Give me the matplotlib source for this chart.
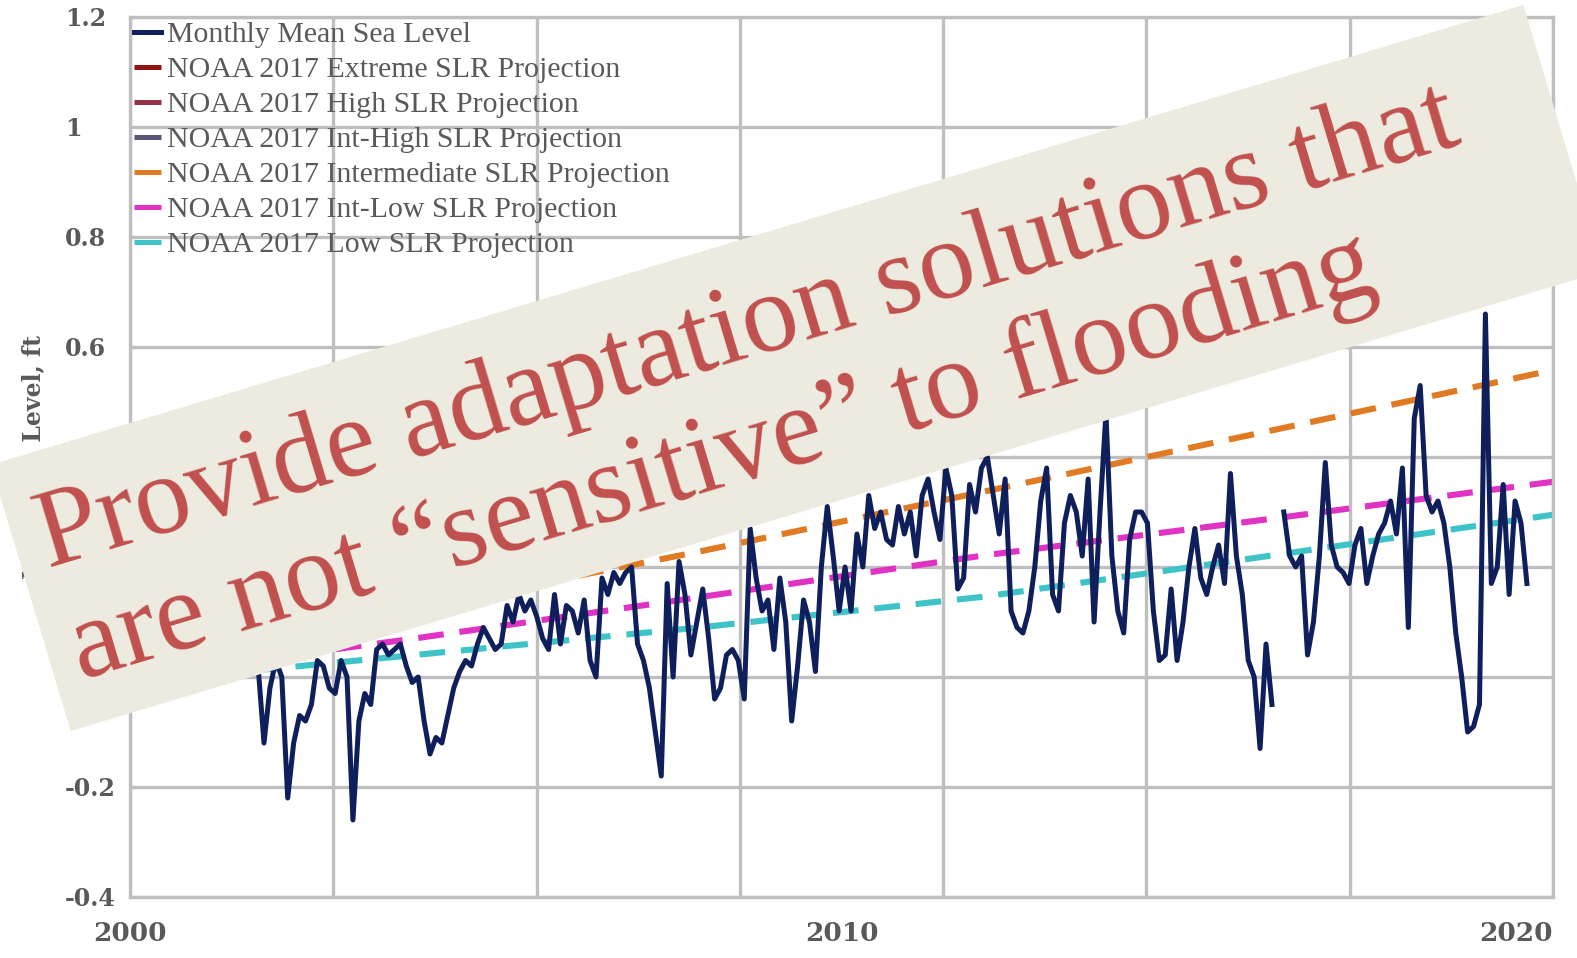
import numpy as np
import matplotlib

matplotlib.use("Agg")
import matplotlib.pyplot as plt
from matplotlib.patches import Rectangle

# monthly mean sea level (ft), one value per month from late 2001; nan = missing month
msl_start = 2001.8
msl = [
    0.02, -0.12, -0.02, 0.03, 0.0, -0.22, -0.12, -0.07, -0.08, -0.05, 0.03, 0.02,
    -0.02, -0.03, 0.03, 0.0, -0.26, -0.08, -0.03, -0.05, 0.05, 0.06, 0.04, 0.05,
    0.06, 0.02, -0.01, 0.0, -0.08, -0.14, -0.11, -0.12, -0.07, -0.02, 0.01, 0.03,
    0.02, 0.06, 0.09, 0.07, 0.05, 0.06, 0.13, 0.10, 0.15, 0.12, 0.14, 0.11,
    0.07, 0.05, 0.15, 0.06, 0.13, 0.12, 0.08, 0.14, 0.03, 0.0, 0.18, 0.15,
    0.19, 0.17, 0.19, 0.20, 0.06, 0.03, -0.02, -0.10, -0.18, 0.17, 0.0, 0.21,
    0.15, 0.04, 0.10, 0.16, 0.07, -0.04, -0.02, 0.04, 0.05, 0.03, -0.04, 0.27,
    0.18, 0.12, 0.14, 0.05, 0.18, 0.10, -0.08, 0.02, 0.14, 0.10, 0.01, 0.20,
    0.31, 0.22, 0.12, 0.20, 0.12, 0.26, 0.20, 0.33, 0.27, 0.30, 0.25, 0.24,
    0.31, 0.26, 0.30, 0.22, 0.33, 0.36, 0.30, 0.25, 0.38, 0.33, 0.16, 0.18,
    0.35, 0.30, 0.38, 0.40, 0.33, 0.26, 0.36, 0.12, 0.09, 0.08, 0.12, 0.20,
    0.32, 0.38, 0.15, 0.12, 0.28, 0.33, 0.30, 0.22, 0.36, 0.10, 0.30, 0.48,
    0.22, 0.12, 0.08, 0.25, 0.30, 0.30, 0.28, 0.12, 0.03, 0.04, 0.16, 0.03,
    0.10, 0.20, 0.27, 0.18, 0.15, 0.20, 0.24, 0.17, 0.37, 0.22, 0.15, 0.03,
    0.0, -0.13, 0.06, -0.05, np.nan, 0.30, 0.22, 0.20, 0.22, 0.04, 0.10, 0.22,
    0.39, 0.24, 0.20, 0.19, 0.17, 0.24, 0.27, 0.17, 0.22, 0.26, 0.28, 0.32,
    0.26, 0.38, 0.09, 0.47, 0.53, 0.33, 0.30, 0.32, 0.28, 0.20, 0.08, 0.0,
    -0.10, -0.09, -0.05, 0.66, 0.17, 0.20, 0.35, 0.15, 0.32, 0.28, 0.17,
]

# NOAA 2017 scenario curves (ft)
proj_years = [2000, 2004, 2008, 2012, 2016, 2020]
low = [-0.01, 0.04, 0.09, 0.146, 0.22, 0.295]
int_low = [0.0, 0.07, 0.145, 0.221, 0.287, 0.355]
intermediate = [0.02, 0.125, 0.228, 0.337, 0.447, 0.558]
upper_years = [2000, 2005, 2010, 2015, 2020]
int_high = [0.0, 0.17, 0.38, 0.62, 0.90]
high = [0.0, 0.20, 0.45, 0.72, 0.98]
extreme = [0.0, 0.22, 0.49, 0.77, 1.02]

y_ticks = [-0.4, -0.2, 0.0, 0.2, 0.4, 0.6, 0.8, 1.0, 1.2]
y_labels = ["-0.4", "-0.2", "0", "0.2", "0.4", "0.6", "0.8", "1", "1.2"]
x_labels = ["2000", "2010", "2020"]
banner_lines = ["Provide adaptation solutions that",
                "are not \u201csensitive\u201d to flooding"]

W, H = 1577, 958
GREY = "#BFBFBF"
TXT = "#595959"
SERIF = ["Liberation Serif", "DejaVu Serif"]
TICKFONT = ["DejaVu Serif"]

fig = plt.figure(figsize=(W / 100, H / 100), dpi=100)
ax = fig.add_axes([130 / W, 1 - 897 / H, (1553 - 130) / W, (897 - 17) / H])

months = msl_start + np.arange(len(msl)) / 12
ax.plot(months, msl, color="#0E1F5B", lw=3.6, label="Monthly Mean Sea Level", zorder=5)

dash = dict(lw=4.4, dashes=(4.2, 2.6), solid_capstyle="butt")
ax.plot(upper_years, extreme, color="#8E1414", label="NOAA 2017 Extreme SLR Projection", **dash)
ax.plot(upper_years, high, color="#963248", label="NOAA 2017 High SLR Projection", **dash)
ax.plot(upper_years, int_high, color="#5C5577", label="NOAA 2017 Int-High SLR Projection", **dash)
ax.plot(proj_years, intermediate, color="#E07B24", label="NOAA 2017 Intermediate SLR Projection", **dash)
ax.plot(proj_years, int_low, color="#E033C4", label="NOAA 2017 Int-Low SLR Projection", **dash)
ax.plot(proj_years, low, color="#3EC4C8", label="NOAA 2017 Low SLR Projection", **dash)

ax.set_xlim(2000, 2020)
ax.set_ylim(-0.4, 1.2)

# gridlines split the 20 years into seven equal bands; year labels sit on minor ticks
ax.xaxis.remove_overlapping_locs = False
ax.set_xticks(np.linspace(2000, 2020, 8))
ax.set_xticklabels([])
ax.set_xticks([2000, 2010, 2020], minor=True)
ax.set_xticklabels(x_labels, minor=True)
ax.set_yticks(y_ticks)
ax.set_yticklabels(y_labels)
ax.grid(True, which="major", color=GREY, lw=2.4)
ax.set_axisbelow(True)
ax.tick_params(which="both", length=0)
ax.tick_params(axis="y", pad=47, labelsize=17, labelcolor=TXT)
ax.tick_params(axis="x", which="minor", pad=17, labelsize=19, labelcolor=TXT)
for lab in ax.get_xticklabels(minor=True) + ax.get_yticklabels():
    lab.set_fontfamily(TICKFONT)
    lab.set_fontweight("bold")
for lab in ax.get_yticklabels():
    lab.set_horizontalalignment("left")
ax.get_xticklabels(minor=True)[-1].set_horizontalalignment("right")
for sp in ax.spines.values():
    sp.set_color(GREY)
    sp.set_linewidth(2.4)

fig.text(33 / W, 1 - 457 / H, "Mean Sea Level, ft", rotation=90, ha="center", va="center",
         fontsize=17, fontweight="bold", color=TXT, family=TICKFONT)

leg = ax.legend(loc="upper left", bbox_to_anchor=(0.0, 1.0), frameon=False,
                prop={"family": SERIF, "size": 21.5}, handlelength=0.9, handletextpad=0.2,
                labelspacing=0.27, borderpad=0.05, borderaxespad=0.1)
for t in leg.get_texts():
    t.set_color(TXT)
for h in leg.get_lines():
    h.set_linestyle("-")
    h.set_linewidth(3.6)

# tilted call-out banner laid over the chart, in pixel units
over = fig.add_axes([0, 0, 1, 1], zorder=10)
over.set_xlim(0, W)
over.set_ylim(0, H)
over.axis("off")
cx, cy, length, depth, angle = 797, 590, 1600, 278, 16.7
over.add_patch(Rectangle((cx - length / 2, cy - depth / 2), length, depth, angle=angle,
                         rotation_point="center", facecolor="#EDEBE0", edgecolor="none"))
th = np.deg2rad(angle)
start = -775
for line, off in zip(banner_lines, [24, -93]):
    px = cx + start * np.cos(th) - off * np.sin(th)
    py = cy + start * np.sin(th) + off * np.cos(th)
    over.text(px, py, line, rotation=angle, rotation_mode="anchor", ha="left", va="baseline",
              fontsize=81, family=SERIF, color="#C0504D")

fig.savefig("out.png", dpi=100)
plt.close(fig)
